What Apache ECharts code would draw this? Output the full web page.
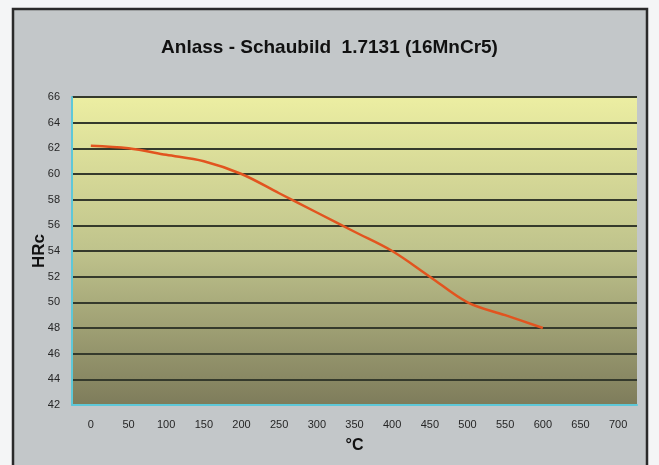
<!DOCTYPE html>
<html>
<head>
<meta charset="utf-8">
<script src="https://cdn.jsdelivr.net/npm/echarts@6/dist/echarts.min.js"></script>
<style>
html,body{margin:0;padding:0;background:#f4f5f6;}
#c{width:659px;height:465px;}
</style>
</head>
<body>
<div id="c"></div>
<script>
var titleText = 'Anlass - Schaubild  1.7131 (16MnCr5)';
var xTitle = '°C';
var yTitle = 'HRc';
var categories = ['0','50','100','150','200','250','300','350','400','450','500','550','600','650','700'];
var hardness = [62.2, 62.0, 61.5, 61.0, 60.0, 58.5, 57.0, 55.5, 54.0, 52.0, 50.0, 49.0, 48.0];
var yMin = 42, yMax = 66, yStep = 2;

var chart = echarts.init(document.getElementById('c'), null, {renderer:'canvas'});
chart.setOption({
  animation: false,
  backgroundColor: '#f4f5f6',
  graphic: [
    {type:'rect', z:-10, shape:{x:13, y:9, width:634, height:470},
     style:{fill:'#c3c7c9', stroke:'#2a2a2a', lineWidth:2.5}}
  ],
  title: {
    text: titleText, left: 'center', top: 33,
    textStyle: {fontFamily:'Liberation Sans, Arial', fontSize:19, fontWeight:'bold', color:'#111'}
  },
  grid: {
    left: 72, right: 22, top: 97, bottom: 60,
    show: true, borderWidth: 0,
    backgroundColor: new echarts.graphic.LinearGradient(0,0,0,1,[
      {offset:0, color:'#eceea2'},
      {offset:0.5, color:'#bfc38c'},
      {offset:1, color:'#7e7c5b'}
    ])
  },
  xAxis: {
    type: 'category', data: categories, boundaryGap: true,
    name: xTitle, nameLocation: 'middle', nameGap: 33, nameMoveOverlap: false,
    nameTextStyle: {fontFamily:'Liberation Sans, Arial', fontSize:16, fontWeight:'bold', color:'#111'},
    axisLine: {show:true, lineStyle:{color:'#5ec8d8', width:2}},
    axisTick: {show:false},
    axisLabel: {margin:14, fontFamily:'Liberation Sans, Arial', fontSize:11, color:'#262626'},
    splitLine: {show:false}
  },
  yAxis: {
    type: 'value', min: yMin, max: yMax, interval: yStep,
    name: yTitle, nameLocation: 'middle', nameGap: 24, nameMoveOverlap: false,
    nameTextStyle: {fontFamily:'Liberation Sans, Arial', fontSize:17, fontWeight:'bold', color:'#111'},
    axisLine: {show:true, lineStyle:{color:'#5ec8d8', width:2}},
    axisTick: {show:false},
    axisLabel: {margin:12, fontFamily:'Liberation Sans, Arial', fontSize:11, color:'#262626'},
    splitLine: {show:true, lineStyle:{color:'#353a2c', width:2}}
  },
  series: [{
    type: 'line', data: hardness, smooth: 0.35, showSymbol: false,
    lineStyle: {color:'#e2541f', width:2.5}
  }]
});
</script>
</body>
</html>
